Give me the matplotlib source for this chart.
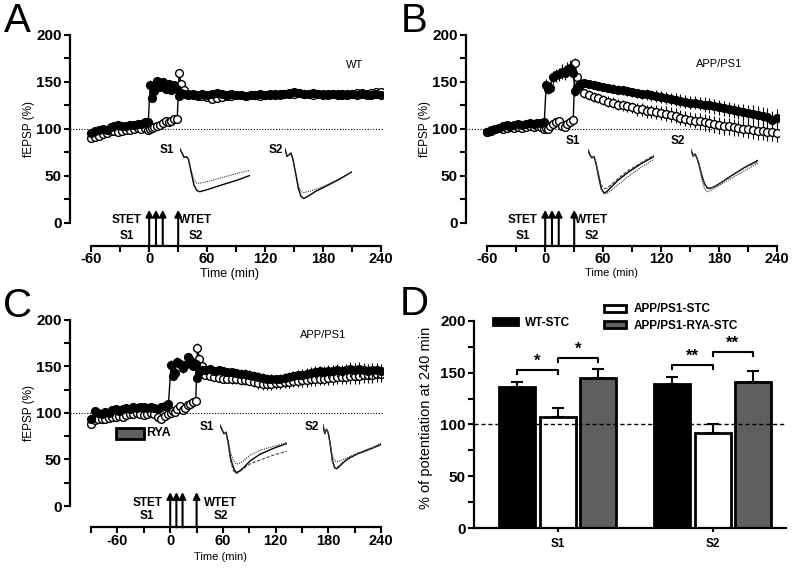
import matplotlib
matplotlib.use('Agg')
import matplotlib.pyplot as plt
from matplotlib.ticker import MultipleLocator, FixedLocator
from matplotlib.patches import Rectangle

plt.rcParams['font.family'] = ['Liberation Sans', 'DejaVu Sans']
plt.rcParams['font.weight'] = 'bold'
plt.rcParams['axes.unicode_minus'] = False

# ---------------- data: time grids ----------------
t_pre_AB = [-60, -56, -52, -48, -44, -40, -36, -32, -28, -24, -20, -16, -12, -8, -4, -1]
t_pre_C = [-90, -86, -82, -78, -74, -70, -66, -62, -58, -54, -50, -46, -42, -38, -34, -30,
           -26, -22, -18, -14, -10, -6, -2]
t_early = [1, 3, 5, 8, 11, 14, 17, 20, 23, 26, 29]
t_s2 = [31, 33, 36]
t_late = list(range(40, 245, 5))
t_AB = t_pre_AB + t_early + t_s2 + t_late
t_C = t_pre_C + t_early + t_s2 + t_late

# ---------------- panel A (WT) ----------------
A_s1 = [96, 98, 99, 100, 99, 102, 103, 104, 103, 103, 104, 104, 105, 105, 107, 107,
        147, 133, 140, 151, 145, 150, 143, 148, 142, 147, 143,
        135, 138, 137,
        136, 137, 136, 137, 136, 137, 138, 137, 136, 137,
        136, 136, 135, 136, 136, 137, 136, 137, 136, 137,
        137, 138, 139, 138, 137, 137, 138, 137, 136, 137,
        137, 136, 137, 136, 137, 136, 137, 136, 136, 137,
        136]
A_s1_err = [3, 2, 3, 2, 3, 2, 3, 2, 3, 2, 3, 2, 3, 2, 3, 3,
            5, 4, 4, 4, 4, 4, 4, 4, 4, 4, 4,
            3, 3, 3,
            3, 3, 3, 3, 3, 3, 3, 3, 3, 3,
            3, 3, 3, 3, 3, 3, 3, 3, 3, 3,
            4, 4, 4, 4, 4, 4, 4, 4, 4, 4,
            4, 4, 4, 4, 4, 4, 4, 4, 4, 4,
            4]
A_s2 = [90, 91, 93, 95, 96, 98, 98, 97, 98, 99, 99, 100, 101, 100, 101, 99,
        100, 101, 102, 103, 104, 106, 108, 107, 109, 111, 111,
        160, 148, 142,
        137, 136, 135, 135, 134, 132, 133, 134, 135, 135,
        136, 136, 135, 136, 136, 135, 136, 136, 137, 136,
        137, 137, 137, 138, 137, 137, 136, 137, 137, 136,
        137, 137, 136, 137, 137, 138, 138, 137, 138, 139,
        139]
A_s2_err = [2, 2, 2, 2, 2, 2, 2, 2, 2, 2, 2, 2, 2, 2, 2, 2,
            3, 3, 3, 3, 3, 3, 3, 3, 3, 3, 3,
            4, 4, 4,
            3, 3, 3, 3, 3, 3, 3, 3, 3, 3,
            3, 3, 3, 3, 3, 3, 3, 3, 3, 3,
            3, 3, 3, 3, 3, 3, 3, 3, 3, 3,
            4, 4, 4, 4, 4, 4, 4, 4, 4, 4,
            4]

# ---------------- panel B (APP/PS1) ----------------
B_s1 = [97, 98, 100, 101, 103, 104, 103, 104, 105, 104, 105, 106, 105, 106, 106, 107,
        147, 143, 144, 155, 157, 158, 161, 160, 163, 165, 160,
        140, 145, 148,
        149, 148, 147, 146, 145, 144, 143, 142, 141, 140,
        139, 138, 137, 137, 136, 135, 134, 133, 132, 131,
        130, 129, 128, 128, 127, 126, 125, 124, 123, 122,
        121, 120, 119, 118, 117, 116, 115, 114, 113, 110,
        112]
B_s1_err = [3, 3, 3, 3, 3, 3, 3, 3, 3, 3, 3, 3, 3, 3, 3, 3,
            6, 6, 6, 7, 7, 7, 8, 8, 8, 8, 8,
            5, 5, 5,
            4, 4, 4, 4, 4, 4, 5, 5, 5, 5,
            5, 5, 5, 6, 6, 6, 6, 6, 6, 7,
            7, 7, 7, 7, 7, 8, 8, 8, 8, 8,
            8, 8, 8, 9, 9, 9, 9, 9, 9, 9,
            9]
B_s2 = [97, 99, 100, 101, 100, 101, 102, 101, 102, 101, 102, 103, 102, 103, 102, 100,
        101, 100, 103, 105, 107, 108, 103, 102, 105, 107, 110,
        170, 155, 147,
        138, 136, 134, 133, 131, 129, 128, 126, 125, 124,
        123, 121, 121, 119, 119, 118, 117, 116, 115, 114,
        112, 111, 110, 109, 108, 107, 106, 105, 104, 103,
        103, 102, 101, 100, 100, 99, 98, 98, 97, 97,
        96]
B_s2_err = [3, 3, 3, 3, 3, 3, 3, 3, 3, 3, 3, 3, 3, 3, 3, 3,
            3, 3, 3, 3, 3, 3, 3, 3, 3, 3, 3,
            6, 6, 5,
            5, 5, 5, 5, 5, 6, 6, 6, 6, 6,
            6, 7, 7, 7, 7, 7, 7, 8, 8, 8,
            8, 8, 8, 8, 9, 9, 9, 9, 9, 9,
            9, 9, 9, 9, 10, 10, 10, 10, 10, 10,
            10]

# ---------------- panel C (APP/PS1 + RYA) ----------------
C_s1 = [93, 102, 100, 99, 101, 100, 103, 104, 102, 104, 105, 104, 106, 105, 106, 106,
        105, 106, 105, 104, 106, 108, 110,
        152, 140, 143, 155, 153, 148, 152, 160, 157, 151, 153,
        138, 144, 146,
        146, 147, 145, 146, 145, 144, 144, 143, 142, 142,
        141, 140, 139, 138, 137, 137, 136, 137, 138, 139,
        140, 141, 141, 142, 143, 144, 145, 144, 145, 145,
        146, 145, 146, 147, 146, 147, 146, 145, 146, 146,
        145]
C_s1_err = [3, 3, 3, 3, 3, 3, 3, 3, 3, 3, 3, 3, 3, 3, 3, 3, 3, 3, 3, 3, 3, 3, 3,
            5, 5, 5, 5, 5, 5, 5, 5, 5, 5, 5,
            4, 4, 4,
            4, 4, 4, 4, 4, 4, 4, 4, 5, 5,
            5, 5, 5, 5, 5, 5, 5, 5, 5, 5,
            5, 5, 6, 6, 6, 6, 6, 6, 7, 7,
            7, 7, 7, 8, 8, 8, 8, 8, 8, 8,
            8]
C_s2 = [88, 92, 93, 94, 93, 95, 96, 96, 97, 96, 98, 99, 99, 100, 99, 98,
        99, 100, 99, 96, 94, 97, 99,
        100, 102, 101, 104, 107, 103, 105, 109, 110, 112, 113,
        170, 158, 150,
        141, 140, 139, 138, 137, 137, 136, 136, 135, 135,
        134, 133, 132, 131, 131, 131, 132, 132, 133, 133,
        134, 134, 135, 135, 136, 136, 137, 137, 138, 138,
        139, 139, 139, 140, 140, 140, 141, 141, 141, 142,
        142]
C_s2_err = [3, 3, 3, 3, 3, 3, 3, 3, 3, 3, 3, 3, 3, 3, 3, 3, 3, 3, 3, 3, 3, 3, 3,
            3, 3, 3, 3, 3, 3, 3, 3, 3, 3, 3,
            5, 5, 5,
            4, 4, 4, 4, 4, 4, 5, 5, 5, 5,
            5, 5, 6, 6, 6, 6, 6, 6, 6, 6,
            6, 6, 7, 7, 7, 7, 7, 7, 8, 8,
            8, 8, 8, 9, 9, 9, 9, 9, 9, 9,
            9]

# stimulation times
stet_times = [0, 7, 14]
wtet_time = 30
rya_start, rya_end = -62, -30

# ---------------- fEPSP sample traces (normalised) ----------------
trace_x = [0, 0.03, 0.06, 0.09, 0.12, 0.16, 0.20, 0.24, 0.28, 0.35, 0.45, 0.60, 0.80, 1.0]
A_S1_post = [0, -0.10, -0.20, -0.18, -0.24, -0.55, -0.85, -0.97, -1.0, -0.97, -0.92, -0.84, -0.74, -0.62]
A_S1_base = [0, -0.10, -0.20, -0.18, -0.24, -0.50, -0.72, -0.80, -0.80, -0.78, -0.74, -0.67, -0.58, -0.50]
A_S2_post = [0, -0.15, -0.12, -0.08, -0.22, -0.50, -0.80, -0.96, -1.0, -0.95, -0.86, -0.76, -0.62, -0.46]
A_S2_base = [0, -0.15, -0.12, -0.08, -0.22, -0.48, -0.74, -0.86, -0.88, -0.86, -0.82, -0.74, -0.61, -0.46]
B_S1_a = [0, -0.12, -0.18, -0.15, -0.30, -0.60, -0.88, -0.98, -0.96, -0.85, -0.70, -0.52, -0.32, -0.15]
B_S1_b = [0, -0.12, -0.18, -0.15, -0.28, -0.55, -0.80, -0.88, -0.88, -0.80, -0.66, -0.48, -0.30, -0.12]
B_S1_c = [0, -0.12, -0.18, -0.15, -0.30, -0.62, -0.90, -1.0, -1.0, -0.93, -0.80, -0.62, -0.40, -0.22]
B_S2_a = [0, -0.15, -0.10, -0.20, -0.35, -0.60, -0.80, -0.90, -0.92, -0.88, -0.78, -0.62, -0.42, -0.25]
B_S2_b = [0, -0.15, -0.10, -0.20, -0.35, -0.62, -0.82, -0.92, -0.93, -0.88, -0.78, -0.63, -0.43, -0.28]
B_S2_c = [0, -0.15, -0.10, -0.20, -0.38, -0.70, -0.92, -1.0, -0.98, -0.92, -0.82, -0.68, -0.50, -0.32]
C_S1_a = [0, -0.10, -0.18, -0.15, -0.35, -0.70, -0.88, -0.98, -0.96, -0.88, -0.74, -0.60, -0.48, -0.38]
C_S1_b = [0, -0.10, -0.18, -0.15, -0.38, -0.75, -0.95, -1.0, -0.98, -0.90, -0.80, -0.72, -0.62, -0.54]
C_S1_c = [0, -0.10, -0.18, -0.15, -0.30, -0.58, -0.74, -0.80, -0.80, -0.74, -0.62, -0.52, -0.44, -0.36]
C_S2_a = [0, -0.20, -0.10, -0.18, -0.40, -0.80, -0.98, -1.0, -0.95, -0.86, -0.76, -0.66, -0.56, -0.45]
C_S2_b = [0, -0.20, -0.10, -0.18, -0.42, -0.82, -0.96, -0.97, -0.93, -0.84, -0.75, -0.65, -0.55, -0.46]
C_S2_c = [0, -0.20, -0.10, -0.18, -0.38, -0.70, -0.82, -0.84, -0.83, -0.79, -0.73, -0.64, -0.54, -0.42]

# ---------------- panel D (bars) ----------------
groups = ['S1', 'S2']
bar_series = ['WT-STC', 'APP/PS1-STC', 'APP/PS1-RYA-STC']
bar_vals = [[136, 139], [107, 92], [145, 141]]
bar_errs = [[5, 7], [9, 8], [9, 11]]
sig_left = [-0.261, 0.0, 0.739, 1.0]
sig_right = [0.0, 0.261, 1.0, 1.261]
sig_y = [152.5, 164, 157.5, 170]
sig_text = ['*', '*', '**', '**']

# ======================================================================
W, H = 793, 572
fig = plt.figure(figsize=(W / 100, H / 100), dpi=100)


def px_axes(left, top, right, bottom):
    return fig.add_axes([left / W, 1 - bottom / H, (right - left) / W, (bottom - top) / H])


def ftext(x, y, s, **kw):
    fig.text(x / W, 1 - y / H, s, **kw)


def style_ts(ax, xmin, spine_start, ylo):
    ax.set_xlim(xmin, 242)
    ax.set_ylim(ylo, 205)
    for s in ['top', 'right']:
        ax.spines[s].set_visible(False)
    for s in ['left', 'bottom']:
        ax.spines[s].set_linewidth(1.6)
    ax.spines['left'].set_bounds(0, 200)
    ax.spines['bottom'].set_bounds(spine_start, 240)
    ax.xaxis.set_major_locator(MultipleLocator(60))
    ax.xaxis.set_minor_locator(MultipleLocator(30))
    ax.yaxis.set_major_locator(FixedLocator([0, 50, 100, 150, 200]))
    ax.yaxis.set_minor_locator(FixedLocator([25, 75, 125, 175]))
    ax.tick_params(which='both', direction='out', length=4, width=1.5)
    ax.tick_params(axis='x', which='major', labelsize=10.5, pad=1)
    ax.tick_params(axis='y', which='major', labelsize=11, pad=2)
    ax.patch.set_alpha(0)


def plot_series(ax, t, v1, e1, v2, e2):
    ax.axhline(100, xmin=0, xmax=1, color='black', lw=0.8, ls=(0, (1, 1.5)), zorder=1)
    ax.errorbar(t, v2, yerr=e2, fmt='o-', color='black', mfc='white', mec='black', ms=5.6,
                mew=1, lw=1, elinewidth=0.8, capsize=0, zorder=3)
    ax.errorbar(t, v1, yerr=e1, fmt='o-', color='black', mfc='black', mec='black', ms=5.6,
                mew=1, lw=1, elinewidth=0.8, capsize=0, zorder=4)


def stim_marks(ax, ylo, top, stet_x, s1_y, wtet_x, s2_y):
    for t in stet_times + [wtet_time]:
        ax.annotate('', xy=(t, top), xytext=(t, ylo),
                    arrowprops=dict(arrowstyle='-|>', color='black', lw=1.5,
                                    mutation_scale=10, shrinkA=0, shrinkB=0))
    ax.text(stet_x, 3, 'STET', ha='center', va='center', fontsize=8.5)
    ax.text(stet_x, s1_y, 'S1', ha='center', va='center', fontsize=8.5)
    ax.text(wtet_x, 3, 'WTET', ha='center', va='center', fontsize=8.5)
    ax.text(wtet_x, s2_y, 'S2', ha='center', va='center', fontsize=8.5)


def inset(x0, x1, ytop, ybot, traces):
    a = px_axes(x0, ytop, x1, ybot)
    styles = [dict(color='black', lw=1.0, ls='-'),
              dict(color='#333333', lw=0.8, ls=(0, (1, 1))),
              dict(color='#444444', lw=0.8, ls=(0, (3, 1.5)))]
    for tr, st in zip(traces, styles):
        a.plot(trace_x, tr, **st)
    a.set_xlim(0, 1)
    a.set_ylim(-1.03, 0.02)
    a.axis('off')


# ---------------- Panel A ----------------
axA = px_axes(70, 30.3, 383, 245.5)
style_ts(axA, -82, -60, -24)
plot_series(axA, t_AB, A_s1, A_s1_err, A_s2, A_s2_err)
stim_marks(axA, -24, 14, -23, -14, 48, -14)
axA.set_ylabel('fEPSP (%)', fontsize=8.5)
axA.yaxis.set_label_coords(-0.112, 0.541)
axA.set_xlabel('Time (min)', fontsize=9)
axA.xaxis.set_label_coords(0.51, -0.105)
ftext(355, 65, 'WT', ha='center', va='center', fontsize=8, fontweight='normal')
ftext(167, 150, 'S1', ha='center', va='center', fontsize=8.5)
ftext(276, 150, 'S2', ha='center', va='center', fontsize=8.5)
inset(180, 250, 148, 193, [A_S1_post, A_S1_base])
inset(285, 352, 148, 200, [A_S2_post, A_S2_base])

# ---------------- Panel B ----------------
axB = px_axes(466, 30.3, 779, 245.5)
style_ts(axB, -82, -60, -24)
plot_series(axB, t_AB, B_s1, B_s1_err, B_s2, B_s2_err)
stim_marks(axB, -24, 14, -23, -14, 48, -14)
axB.set_ylabel('fEPSP (%)', fontsize=8.5)
axB.yaxis.set_label_coords(-0.112, 0.541)
axB.set_xlabel('Time (min)', fontsize=8)
axB.xaxis.set_label_coords(0.466, -0.105)
ftext(719, 64, 'APP/PS1', ha='center', va='center', fontsize=8, fontweight='normal')
ftext(573, 141, 'S1', ha='center', va='center', fontsize=8.5)
ftext(678, 141, 'S2', ha='center', va='center', fontsize=8.5)
inset(588, 654, 149, 195, [B_S1_a, B_S1_c, B_S1_b])
inset(691, 758, 149, 193, [B_S2_a, B_S2_c, B_S2_b])

# ---------------- Panel C ----------------
axC = px_axes(70, 315.3, 383, 527.4)
style_ts(axC, -114, -90, -23)
plot_series(axC, t_C, C_s1, C_s1_err, C_s2, C_s2_err)
stim_marks(axC, -23, 15, -26, -11, 57, -11)
axC.add_patch(Rectangle((rya_start, 72), rya_end - rya_start, 12, facecolor='#606060',
                        edgecolor='black', lw=2, zorder=2))
axC.text(rya_end + 3, 78, 'RYA', ha='left', va='center', fontsize=9)
axC.set_ylabel('fEPSP (%)', fontsize=8.5)
axC.yaxis.set_label_coords(-0.112, 0.539)
axC.set_xlabel('Time (min)', fontsize=8)
axC.xaxis.set_label_coords(0.482, -0.116)
ftext(323, 335, 'APP/PS1', ha='center', va='center', fontsize=8, fontweight='normal')
ftext(207, 427, 'S1', ha='center', va='center', fontsize=8.5)
ftext(312, 427, 'S2', ha='center', va='center', fontsize=8.5)
inset(220, 287, 424, 475, [C_S1_a, C_S1_c, C_S1_b])
inset(323, 381, 424, 470, [C_S2_a, C_S2_c, C_S2_b])

# ---------------- Panel D ----------------
axD = px_axes(474, 310.6, 786, 528)
axD.set_xlim(-0.539, 1.474)
axD.set_ylim(0, 210)
bar_colors = ['black', 'white', '#5f5f5f']
offsets = [-0.261, 0.0, 0.261]
handles = []
for i in range(3):
    xs = [g + offsets[i] for g in range(len(groups))]
    h = axD.bar(xs, bar_vals[i], width=0.232, color=bar_colors[i], edgecolor='black',
                lw=2, zorder=2, label=bar_series[i])
    axD.errorbar(xs, bar_vals[i], yerr=[[0] * len(bar_errs[i]), bar_errs[i]], fmt='none',
                 ecolor='black', elinewidth=1.5, capsize=4, capthick=1.5, zorder=1)
    handles.append(h)
axD.axhline(100, color='black', lw=1, ls=(0, (3, 2)), zorder=3)
for xl, xr, y, s in zip(sig_left, sig_right, sig_y, sig_text):
    axD.plot([xl, xl, xr, xr], [y - 4, y, y, y - 4], color='black', lw=1.5, zorder=3)
    axD.text((xl + xr) / 2, y + 1, s, ha='center', va='bottom', fontsize=12)
for s in ['top', 'right']:
    axD.spines[s].set_visible(False)
for s in ['left', 'bottom']:
    axD.spines[s].set_linewidth(1.6)
axD.spines['left'].set_bounds(0, 200)
axD.set_xticks(range(len(groups)))
axD.set_xticklabels(groups, fontsize=8.5)
axD.yaxis.set_major_locator(FixedLocator([0, 50, 100, 150, 200]))
axD.yaxis.set_minor_locator(FixedLocator([25, 75, 125, 175]))
axD.tick_params(which='both', direction='out', width=1.5)
axD.tick_params(axis='y', which='both', length=4, labelsize=11, pad=2)
axD.tick_params(axis='x', length=3, pad=4)
axD.set_ylabel('% of potentiation at 240 min', fontsize=10.5)
axD.yaxis.set_label_coords(-0.131, 0.506)
axD.patch.set_alpha(0)

fs_leg = 8.5
leg1 = axD.legend([handles[0]], [bar_series[0]], loc='center left',
                  bbox_to_anchor=(493 / W, 1 - 322.5 / H), bbox_transform=fig.transFigure,
                  frameon=False, borderpad=0, borderaxespad=0, handlelength=2.1,
                  handleheight=0.6, handletextpad=0.6, fontsize=fs_leg)
axD.add_artist(leg1)
axD.legend(handles[1:], bar_series[1:], loc='center left',
           bbox_to_anchor=(604 / W, 1 - 317.5 / H), bbox_transform=fig.transFigure,
           frameon=False, borderpad=0, borderaxespad=0, handlelength=1.9,
           handleheight=0.55, handletextpad=0.6, labelspacing=0.35, fontsize=fs_leg)

# ---------------- panel letters ----------------
for x, y, s in [(4, 32, 'A'), (401, 32, 'B'), (3, 317, 'C'), (400, 315, 'D')]:
    ftext(x, y, s, ha='left', va='baseline', fontsize=29, fontweight='normal')

fig.savefig('out.png', dpi=100)
